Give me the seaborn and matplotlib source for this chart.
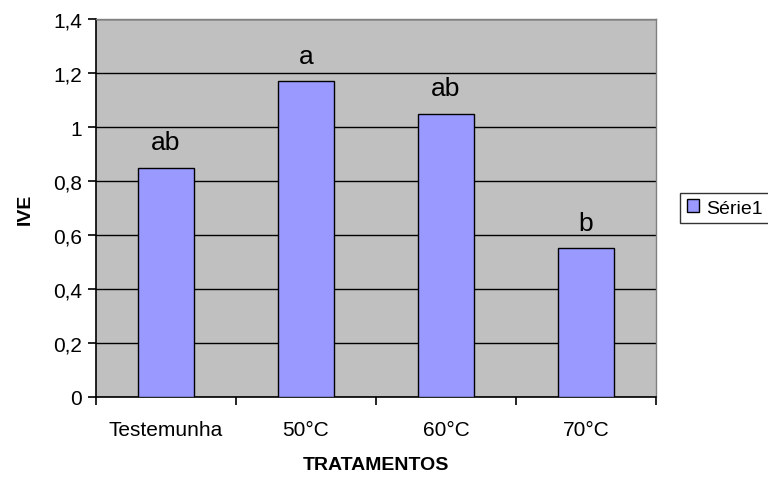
import numpy as np
import pandas as pd
import matplotlib
matplotlib.use("Agg")
import matplotlib.pyplot as plt
import seaborn as sns
from matplotlib.ticker import FuncFormatter

tratamentos = ["Testemunha", "50°C", "60°C", "70°C"]
ive = [0.85, 1.17, 1.05, 0.55]
letras = ["ab", "a", "ab", "b"]

df = pd.DataFrame({"tratamento": tratamentos, "ive": ive, "serie": "Série1"})

sns.set_theme(style="ticks")
plt.rcParams["font.family"] = ["Liberation Sans", "DejaVu Sans"]
plt.rcParams["text.color"] = "black"
plt.rcParams["axes.labelcolor"] = "black"
plt.rcParams["xtick.color"] = "black"
plt.rcParams["ytick.color"] = "black"


def virgula(v, pos):
    if abs(v - round(v)) < 1e-9:
        return str(int(round(v)))
    return f"{v:.1f}".replace(".", ",")


fig = plt.figure(figsize=(7.68, 4.81), dpi=100)
ax = fig.add_axes([0.125, 0.173, 0.729, 0.785])
ax.set_facecolor("#C0C0C0")

sns.barplot(data=df, x="tratamento", y="ive", hue="serie", palette=["#9999FF"],
            width=0.4, edgecolor="black", linewidth=1.0, saturation=1, ax=ax, zorder=3)

ax.set_ylim(0, 1.4)
ax.set_xlim(-0.5, 3.5)
ax.set_yticks(np.arange(0, 1.41, 0.2))
ax.yaxis.set_major_formatter(FuncFormatter(virgula))
ax.grid(axis="y", color="black", linewidth=1.0, zorder=0)
ax.set_axisbelow(True)

# ticks nas divisas das categorias (estilo Excel)
ax.set_xticks(np.arange(-0.5, 3.6, 1))
ax.set_xticklabels([])
ax.set_xticks(range(4), minor=True)
ax.set_xticklabels(tratamentos, minor=True)
ax.tick_params(axis="x", which="minor", length=0, pad=17, labelsize=15)
ax.tick_params(axis="x", which="major", length=6, width=1.2, direction="out")
ax.tick_params(axis="y", length=6, width=1.2, labelsize=15, pad=4)

for s in ["top", "right"]:
    ax.spines[s].set_color("#808080")
    ax.spines[s].set_linewidth(1)
for s in ["left", "bottom"]:
    ax.spines[s].set_color("black")
    ax.spines[s].set_linewidth(1.2)

for i, (v, l) in enumerate(zip(ive, letras)):
    ax.text(i, v + 0.05, l, ha="center", va="bottom", fontsize=19)

ax.set_xlabel("TRATAMENTOS", fontsize=14, fontweight="bold", labelpad=12)
ax.set_ylabel("IVE", fontsize=14, fontweight="bold", labelpad=14)

leg = ax.legend(loc="center left", bbox_to_anchor=(1.026, 0.5), frameon=True, fancybox=False,
                edgecolor="black", fontsize=14, handlelength=0.6, handleheight=0.6,
                handletextpad=0.4, borderpad=0.35)
leg.get_frame().set_linewidth(1)
leg.set_title(None)

fig.savefig("out.png", dpi=100)
